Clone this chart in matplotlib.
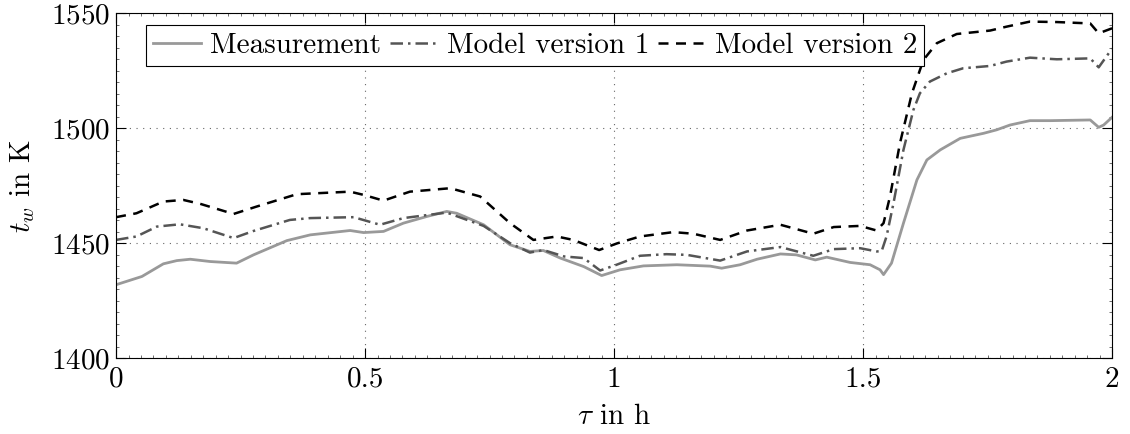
import numpy as np
import matplotlib
matplotlib.use('Agg')
import matplotlib.pyplot as plt
from matplotlib.ticker import MultipleLocator, FuncFormatter

plt.rcParams['font.family'] = 'serif'
plt.rcParams['font.serif'] = ['cmr10']
plt.rcParams['mathtext.fontset'] = 'cm'
plt.rcParams['axes.formatter.use_mathtext'] = True

# Messung
t_meas = [0.0, 0.052, 0.095, 0.122, 0.149, 0.189, 0.242, 0.276, 0.343, 0.39, 0.47, 0.497,
          0.537, 0.577, 0.624, 0.664, 0.684, 0.738, 0.791, 0.831, 0.858, 0.892, 0.939,
          0.975, 1.012, 1.059, 1.126, 1.193, 1.216, 1.253, 1.287, 1.334, 1.366, 1.404,
          1.427, 1.474, 1.514, 1.534, 1.541, 1.557, 1.581, 1.608, 1.628, 1.655, 1.695,
          1.742, 1.768, 1.795, 1.835, 1.876, 1.956, 1.973, 1.983, 2.0]
y_meas = [1431.9, 1435.5, 1441.0, 1442.4, 1443.0, 1442.0, 1441.3, 1444.9, 1451.1, 1453.6,
          1455.5, 1454.6, 1455.1, 1458.7, 1461.6, 1463.8, 1463.0, 1458.0, 1449.3, 1446.4,
          1446.8, 1443.5, 1439.8, 1435.9, 1438.4, 1440.1, 1440.6, 1440.0, 1439.1, 1440.6,
          1443.0, 1445.3, 1444.9, 1442.7, 1443.9, 1441.6, 1440.6, 1438.4, 1436.3, 1441.3,
          1458.7, 1477.5, 1486.2, 1490.6, 1495.6, 1497.8, 1499.3, 1501.4, 1503.3, 1503.3,
          1503.6, 1500.4, 1501.4, 1504.8]

# Modell Version 1
t_m1 = [0.0, 0.041, 0.082, 0.128, 0.175, 0.236, 0.276, 0.349, 0.39, 0.477, 0.53, 0.577,
        0.664, 0.738, 0.791, 0.831, 0.858, 0.9, 0.939, 0.972, 1.005, 1.052, 1.105, 1.146,
        1.213, 1.267, 1.334, 1.4, 1.441, 1.494, 1.527, 1.537, 1.547, 1.561, 1.581, 1.601,
        1.614, 1.634, 1.668, 1.701, 1.755, 1.788, 1.835, 1.889, 1.956, 1.973, 2.0]
y_m1 = [1451.4, 1452.9, 1457.2, 1458.2, 1456.5, 1452.2, 1455.3, 1460.1, 1460.9, 1461.3,
        1458.0, 1460.9, 1463.3, 1457.5, 1450.0, 1445.9, 1447.0, 1444.2, 1443.5, 1438.1,
        1440.6, 1444.5, 1445.2, 1444.9, 1442.4, 1446.4, 1448.3, 1444.5, 1447.4, 1447.8,
        1446.4, 1446.4, 1452.9, 1467.4, 1490.6, 1508.0, 1515.2, 1520.3, 1523.9, 1526.1,
        1527.1, 1529.0, 1530.7, 1530.0, 1530.4, 1526.5, 1534.7]

# Modell Version 2
t_m2 = [0.0, 0.041, 0.095, 0.135, 0.169, 0.236, 0.282, 0.363, 0.47, 0.497, 0.537, 0.59,
        0.671, 0.731, 0.791, 0.838, 0.885, 0.918, 0.97, 1.006, 1.052, 1.119, 1.159, 1.213,
        1.267, 1.334, 1.4, 1.441, 1.494, 1.527, 1.541, 1.554, 1.574, 1.598, 1.621, 1.648,
        1.688, 1.755, 1.788, 1.835, 1.889, 1.956, 1.973, 2.0]
y_m2 = [1461.3, 1463.0, 1468.1, 1468.8, 1467.1, 1462.7, 1465.9, 1471.3, 1472.4, 1471.0,
        1468.5, 1472.4, 1473.9, 1470.3, 1458.7, 1451.4, 1452.9, 1451.4, 1447.0, 1449.9,
        1452.9, 1454.8, 1454.1, 1451.4, 1455.5, 1458.0, 1454.1, 1457.0, 1457.5, 1455.5,
        1458.7, 1470.3, 1493.5, 1515.2, 1529.7, 1537.0, 1541.0, 1542.5, 1544.2, 1546.4,
        1546.2, 1545.6, 1541.3, 1543.5]

fig = plt.figure(figsize=(11.3, 4.34), dpi=100)
ax = fig.add_axes([0.1027, 0.175, 0.8815, 0.7943])

ax.plot(t_meas, y_meas, color='#999999', lw=2.0, label='Measurement')
ax.plot(t_m1, y_m1, color='#555555', lw=1.8, linestyle=(0, (5, 2, 1, 2)),
        label='Model version 1')
ax.plot(t_m2, y_m2, color='black', lw=1.8, linestyle=(0, (4, 3)),
        label='Model version 2')

ax.set_xlim(0, 2)
ax.set_ylim(1400, 1550)
ax.xaxis.set_major_locator(MultipleLocator(0.5))
ax.xaxis.set_minor_locator(MultipleLocator(0.025))
ax.yaxis.set_major_locator(MultipleLocator(50))
ax.yaxis.set_minor_locator(MultipleLocator(5))
ax.xaxis.set_major_formatter(FuncFormatter(lambda v, p: '%g' % v))
ax.tick_params(which='both', direction='in', top=True, right=True, labelsize=21)
ax.tick_params(which='major', length=7, width=0.8)
ax.tick_params(which='minor', length=2.5, width=0.6, color='#555555')
ax.tick_params(axis='x', pad=6)
ax.tick_params(axis='y', pad=4)
ax.grid(True, which='major', linestyle=(0, (1, 5)), color='#666666', lw=0.8)

ax.set_xlabel(r'$\tau$ in h', fontsize=21, labelpad=8)
ax.set_ylabel(r'$t_w$ in K', fontsize=21, labelpad=10)

leg = ax.legend(loc='upper left', bbox_to_anchor=(0.03, 0.966), borderaxespad=0,
                ncol=3, fontsize=21, frameon=True, fancybox=False, framealpha=1,
                edgecolor='black', handlelength=1.65, handletextpad=0.3,
                columnspacing=0.3, borderpad=0.25)
leg.get_frame().set_linewidth(0.8)

fig.savefig('out.png', dpi=100)
